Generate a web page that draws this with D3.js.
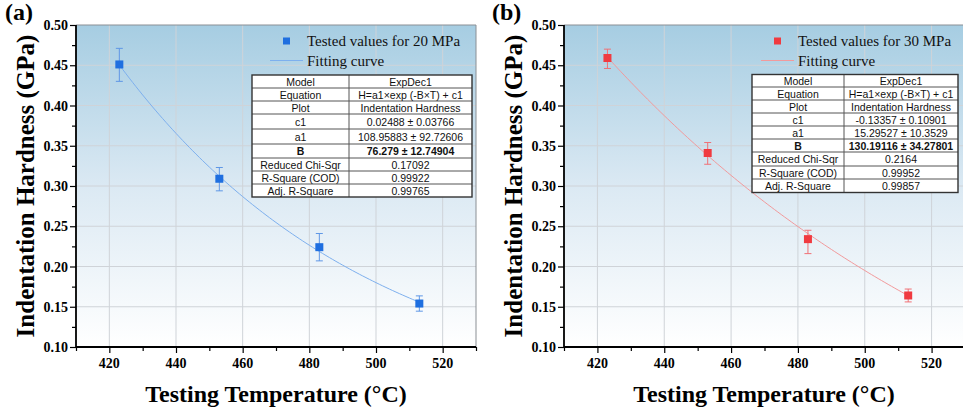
<!DOCTYPE html>
<html>
<head>
<meta charset="utf-8">
<script src="https://cdn.jsdelivr.net/npm/d3@7"></script>
<style>
  html, body { margin: 0; padding: 0; background: #fff; }
  svg { display: block; }
</style>
</head>
<body>
<svg id="chart" width="963" height="411"></svg>
<script>
// ---- data ----
const temperatures = [423, 453, 483, 513];

const hardness20 = [0.451, 0.309, 0.224, 0.154];
const errLow20   = [0.021, 0.015, 0.017, 0.0095];
const errHigh20  = [0.020, 0.014, 0.017, 0.0095];

const hardness30 = [0.459, 0.341, 0.234, 0.164];
const errLow30   = [0.013, 0.014, 0.018, 0.008];
const errHigh30  = [0.011, 0.013, 0.011, 0.008];

// ExpDec1 fit parameters: H = a1*exp(-T/t1) + c1
const fit20 = { c1: 0.02488, a1: 108.95883, t1: 76.279 };
const fit30 = { c1: -0.13357, a1: 15.29527, t1: 130.19116 };

const xTicks = [420, 440, 460, 480, 500, 520];
const yTicks = [0.10, 0.15, 0.20, 0.25, 0.30, 0.35, 0.40, 0.45, 0.50];

const tableLabels = ["Model", "Equation", "Plot", "c1", "a1", "B",
                     "Reduced Chi-Sqr", "R-Square (COD)", "Adj. R-Square"];
const tableValues20 = ["ExpDec1", "H=a1\u00d7exp (-B\u00d7T) + c1", "Indentation Hardness",
                       "0.02488 \u00b1 0.03766", "108.95883 \u00b1 92.72606", "76.279 \u00b1 12.74904",
                       "0.17092", "0.99922", "0.99765"];
const tableValues30 = ["ExpDec1", "H=a1\u00d7exp (-B\u00d7T) + c1", "Indentation Hardness",
                       "-0.13357 \u00b1 0.10901", "15.29527 \u00b1 10.3529", "130.19116 \u00b1 34.27801",
                       "0.2164", "0.99952", "0.99857"];

// ---- drawing ----
const svg = d3.select("#chart");
const defs = svg.append("defs");
const grad = defs.append("linearGradient").attr("id", "bg")
  .attr("x1", 0).attr("y1", 0).attr("x2", 0).attr("y2", 1);
grad.append("stop").attr("offset", "0%").attr("stop-color", "#a6cde2");
grad.append("stop").attr("offset", "50%").attr("stop-color", "#dbe9f3");
grad.append("stop").attr("offset", "100%").attr("stop-color", "#ffffff");

const serif = "'Liberation Serif', 'Times New Roman', serif";
const sans = "'Liberation Sans', Arial, sans-serif";

function drawPanel(cfg) {
  const { left, top, width, height } = cfg;
  const g = svg.append("g");
  const x = d3.scaleLinear().domain([410, 530]).range([left, left + width]);
  const y = d3.scaleLinear().domain([0.10, 0.50]).range([top + height, top]);

  // background
  g.append("rect").attr("x", left).attr("y", top)
    .attr("width", width).attr("height", height).attr("fill", "url(#bg)");

  // grid
  g.append("g").selectAll("line").data(xTicks).join("line")
    .attr("x1", d => x(d)).attr("x2", d => x(d))
    .attr("y1", top).attr("y2", top + height)
    .attr("stroke", "#cfd3d8").attr("stroke-width", 1);
  g.append("g").selectAll("line").data(yTicks.slice(1, -1)).join("line")
    .attr("x1", left).attr("x2", left + width)
    .attr("y1", d => y(d)).attr("y2", d => y(d))
    .attr("stroke", "#cfd3d8").attr("stroke-width", 1);

  // frame top/right
  g.append("path")
    .attr("d", `M${left},${top}H${left + width}V${top + height}`)
    .attr("fill", "none").attr("stroke", "#8a8f94").attr("stroke-width", 1);

  // fitting curve
  const f = cfg.fit;
  const tSamples = d3.range(temperatures[0], temperatures[temperatures.length - 1] + 0.5, 1);
  const line = d3.line().x(t => x(t)).y(t => y(f.a1 * Math.exp(-t / f.t1) + f.c1));
  g.append("path").datum(tSamples).attr("d", line)
    .attr("fill", "none").attr("stroke", cfg.lineColor).attr("stroke-width", 1);

  // error bars
  const eb = g.append("g").attr("stroke", cfg.errColor).attr("stroke-width", 1).attr("fill", "none");
  temperatures.forEach((t, i) => {
    const v = cfg.values[i];
    const y1 = y(v + cfg.errHigh[i]), y2 = y(v - cfg.errLow[i]);
    const cx = x(t);
    eb.append("path").attr("d",
      `M${cx},${y1}V${y2}M${cx - 3.5},${y1}H${cx + 3.5}M${cx - 3.5},${y2}H${cx + 3.5}`);
  });

  // markers
  g.append("g").selectAll("rect").data(temperatures).join("rect")
    .attr("x", d => x(d) - 4).attr("y", (d, i) => y(cfg.values[i]) - 4)
    .attr("width", 8).attr("height", 8).attr("fill", cfg.markColor);

  // axes
  const xAxis = d3.axisBottom(x).tickValues(d3.range(410, 531, 10))
    .tickSize(0).tickFormat("");
  const xg = g.append("g").attr("transform", `translate(0,${top + height})`).call(xAxis);
  xg.select(".domain").remove();
  xg.selectAll(".tick").append("line")
    .attr("y2", d => (d % 20 === 0 ? 6 : 4)).attr("stroke", "#000").attr("stroke-width", 1.2);
  g.append("g").selectAll("text").data(xTicks).join("text")
    .attr("x", d => x(d)).attr("y", top + height + 21)
    .attr("text-anchor", "middle").attr("font-family", serif).attr("font-weight", "bold")
    .attr("font-size", 14).text(d => d);

  const minorY = d3.range(0, 17).map(i => 0.10 + i * 0.025);
  const yAxis = d3.axisLeft(y).tickValues(minorY).tickSize(0).tickFormat("");
  const yg = g.append("g").attr("transform", `translate(${left},0)`).call(yAxis);
  yg.select(".domain").remove();
  yg.selectAll(".tick").append("line")
    .attr("x2", (d, i) => (i % 2 === 0 ? -6 : -4)).attr("stroke", "#000").attr("stroke-width", 1.2);
  g.append("g").selectAll("text").data(yTicks).join("text")
    .attr("x", left - 8).attr("y", d => y(d) + 5)
    .attr("text-anchor", "end").attr("font-family", serif).attr("font-weight", "bold")
    .attr("font-size", 14).text(d => d.toFixed(2));

  g.append("path")
    .attr("d", `M${left},${top}V${top + height}H${left + width}`)
    .attr("fill", "none").attr("stroke", "#000").attr("stroke-width", 1.8);

  // axis titles
  g.append("text")
    .attr("transform", `translate(${left - 42},${top + height / 2}) rotate(-90)`)
    .attr("text-anchor", "middle").attr("font-family", serif).attr("font-weight", "bold")
    .attr("font-size", 25).text("Indentation Hardness (GPa)");
  g.append("text")
    .attr("x", left + 200).attr("y", top + height + 55)
    .attr("text-anchor", "middle").attr("font-family", serif).attr("font-weight", "bold")
    .attr("font-size", 24).text("Testing Temperature (\u00b0C)");

  // panel letter
  g.append("text").attr("x", cfg.letterX).attr("y", 20)
    .attr("font-family", serif).attr("font-weight", "bold").attr("font-size", 24)
    .text(cfg.letter);

  // legend
  const lx = cfg.legendX;
  g.append("rect").attr("x", lx + 13).attr("y", 37.5).attr("width", 7).attr("height", 7)
    .attr("fill", cfg.markColor);
  g.append("text").attr("x", lx + 37).attr("y", 46)
    .attr("font-family", serif).attr("font-size", 15).attr("fill", "#111")
    .text(cfg.legendText);
  g.append("line").attr("x1", lx).attr("x2", lx + 33).attr("y1", 60.5).attr("y2", 60.5)
    .attr("stroke", cfg.lineColor).attr("stroke-width", 1);
  g.append("text").attr("x", lx + 37).attr("y", 65.5)
    .attr("font-family", serif).attr("font-size", 15).attr("fill", "#111")
    .text("Fitting curve");

  // fit results table
  const tb = cfg.table;
  const rowY = [tb.top];
  tb.rows.forEach(h => rowY.push(rowY[rowY.length - 1] + h));
  const tg = g.append("g");
  tg.append("rect").attr("x", tb.x0).attr("y", tb.top)
    .attr("width", tb.x2 - tb.x0).attr("height", rowY[rowY.length - 1] - tb.top)
    .attr("fill", "#fff");
  tg.selectAll("line.row").data(rowY.slice(1, -1)).join("line")
    .attr("x1", tb.x0).attr("x2", tb.x2).attr("y1", d => d).attr("y2", d => d)
    .attr("stroke", "#555").attr("stroke-width", 1);
  tg.append("line").attr("x1", tb.x1).attr("x2", tb.x1)
    .attr("y1", tb.top).attr("y2", rowY[rowY.length - 1])
    .attr("stroke", "#555").attr("stroke-width", 1);
  tg.append("rect").attr("x", tb.x0).attr("y", tb.top)
    .attr("width", tb.x2 - tb.x0).attr("height", rowY[rowY.length - 1] - tb.top)
    .attr("fill", "none").attr("stroke", "#333").attr("stroke-width", 1.4);
  tableLabels.forEach((lab, i) => {
    const cy = (rowY[i] + rowY[i + 1]) / 2 + 4;
    const bold = lab === "B";
    tg.append("text").attr("x", (tb.x0 + tb.x1) / 2).attr("y", cy)
      .attr("text-anchor", "middle").attr("font-family", sans).attr("font-size", 10.5)
      .attr("font-weight", bold ? "bold" : "normal").attr("fill", "#111").text(lab);
    tg.append("text").attr("x", (tb.x1 + tb.x2) / 2).attr("y", cy)
      .attr("text-anchor", "middle").attr("font-family", sans).attr("font-size", 10.5)
      .attr("font-weight", bold ? "bold" : "normal").attr("fill", "#111").text(cfg.tableValues[i]);
  });
}

drawPanel({
  left: 76, top: 25, width: 400, height: 322,
  values: hardness20, errLow: errLow20, errHigh: errHigh20, fit: fit20,
  markColor: "#1f6fe0", errColor: "#5f97e6", lineColor: "#7eb0ee",
  letter: "(a)", letterX: 5,
  legendX: 270, legendText: "Tested values for 20 MPa",
  table: { x0: 252, x1: 349, x2: 472, top: 75, rows: [13, 13, 13, 15, 15, 14, 13, 13, 13] },
  tableValues: tableValues20
});

drawPanel({
  left: 564, top: 25, width: 401, height: 322,
  values: hardness30, errLow: errLow30, errHigh: errHigh30, fit: fit30,
  markColor: "#f03a40", errColor: "#f07075", lineColor: "#f29a9c",
  letter: "(b)", letterX: 492,
  legendX: 761, legendText: "Tested values for 30 MPa",
  table: { x0: 752, x1: 844, x2: 958, top: 74.5, rows: [12.5, 13, 13, 13, 13, 13, 14, 13, 13.5] },
  tableValues: tableValues30
});
</script>
</body>
</html>
